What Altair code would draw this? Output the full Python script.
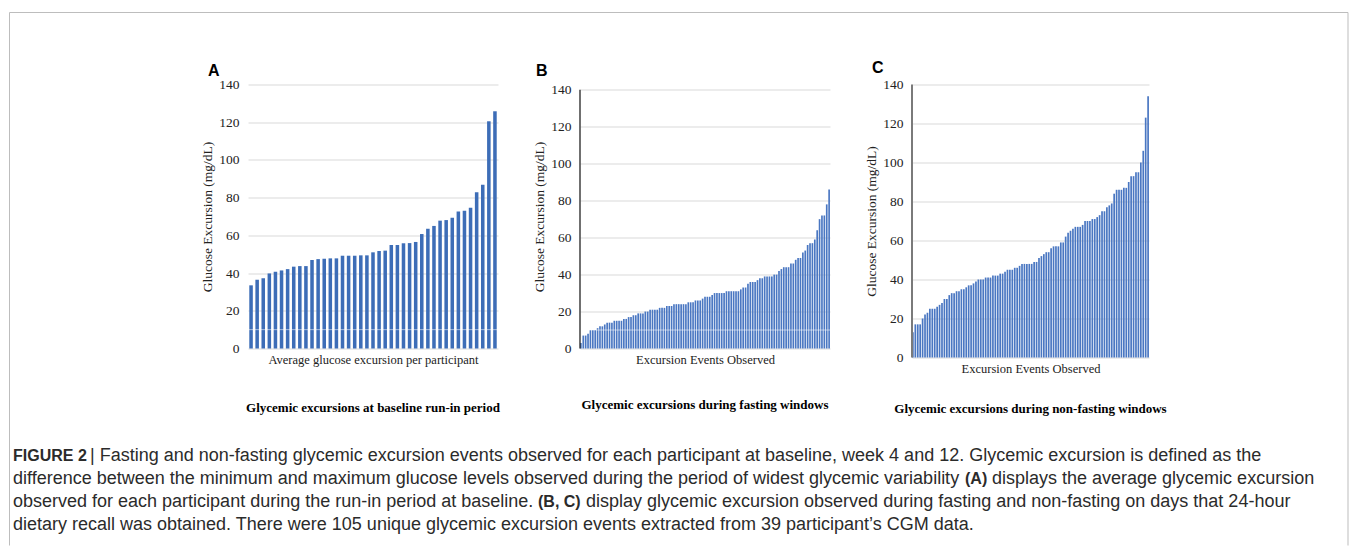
import altair as alt
import pandas as pd

# ---------------- data ----------------
a_values = [33.5, 36.5, 37.3, 39.8, 40.7, 41.4, 42.1, 43.4, 43.7, 43.7,
            46.9, 47.4, 47.6, 47.8, 47.8, 49.2, 49.2, 49.2, 49.4, 49.4,
            51.0, 51.7, 51.9, 54.9, 54.9, 55.8, 55.9, 56.5, 60.7, 63.5,
            65.0, 67.8, 68.1, 69.4, 72.7, 73.1, 74.7, 82.8, 86.9, 120.5,
            125.8]

b_values = [3, 7, 7, 8, 10, 10, 10, 11, 12, 12,
            13, 14, 14, 14, 15, 15, 15, 15, 16, 16,
            17, 17, 18, 18, 19, 19, 19, 20, 20, 21,
            21, 21, 21, 22, 22, 22, 23, 23, 23, 24,
            24, 24, 24, 24, 24, 25, 25, 25, 26, 26,
            26, 27, 28, 28, 28, 29, 30, 30, 30, 30,
            30, 31, 31, 31, 31, 31, 31, 32, 33, 33,
            35, 36, 36, 36, 37, 38, 38, 39, 39, 39,
            39, 40, 40, 42, 43, 44, 44, 44, 46, 46,
            48, 49, 49, 52, 53, 56, 57, 57, 59, 64,
            70, 72, 72, 78, 86]

c_values = [13, 17, 17, 17, 20, 22, 23, 25, 25, 25,
            26, 27, 28, 30, 30, 32, 33, 33, 34, 34,
            35, 35, 36, 37, 37, 38, 39, 40, 40, 40,
            41, 41, 41, 42, 42, 42, 43, 43, 44, 45,
            45, 45, 46, 46, 47, 48, 48, 48, 48, 48,
            49, 49, 51, 52, 53, 54, 54, 56, 57, 57,
            57, 59, 59, 62, 64, 65, 66, 67, 67, 67,
            68, 70, 70, 70, 71, 71, 72, 73, 75, 75,
            77, 78, 79, 84, 86, 86, 86, 87, 87, 90,
            93, 93, 95, 95, 100, 106, 123, 134]

y_ticks = [0, 20, 40, 60, 80, 100, 120, 140]
y_title = "Glucose Excursion (mg/dL)"
x_titles = ["Average glucose excursion per participant",
            "Excursion Events Observed",
            "Excursion Events Observed"]
panel_titles = ["Glycemic excursions at baseline run-in period",
                "Glycemic excursions during fasting windows",
                "Glycemic excursions during non-fasting windows"]
letters = ["A", "B", "C"]

# (text, weight, font size, page x)
caption_lines = [
    [("FIGURE 2", "bold", 16, 13),
     ("| Fasting and non-fasting glycemic excursion events observed for each participant at baseline, week 4 and 12. Glycemic excursion is defined as the", "normal", 18, 90)],
    [("difference between the minimum and maximum glucose levels observed during the period of widest glycemic variability", "normal", 18, 13),
     ("(A)", "bold", 16, 965),
     ("displays the average glycemic excursion", "normal", 18, 992)],
    [("observed for each participant during the run-in period at baseline.", "normal", 18, 13),
     ("(B, C)", "bold", 16, 538),
     ("display glycemic excursion observed during fasting and non-fasting on days that 24-hour", "normal", 18, 586)],
    [("dietary recall was obtained. There were 105 unique glycemic excursion events extracted from 39 participant\u2019s CGM data.", "normal", 18, 13)],
]
caption_y = [455, 478, 501, 524]

SERIF = "Liberation Serif"
SANS = "Liberation Sans"
BLUE_A = "#3d6db7"
BLUE_BC = "#4a77c2"

# page position of panel A's plot origin
AX0, AY0 = 248, 84

Y_AXIS = alt.Axis(values=y_ticks, grid=True, gridColor="#d9d9d9", gridWidth=1,
                  domain=False, ticks=False, labelOverlap=False,
                  labelFont=SERIF, labelFontSize=13.5, labelColor="#222",
                  labelPadding=9, title=y_title, titleFont=SERIF,
                  titleFontSize=13.5, titleFontWeight="normal", titleColor="#222",
                  titlePadding=4)


def panel(values, width, height, ymax, xtitle, color, p_in, p_out,
          letter, letter_xy, title, title_y, axis_line=None, white10=False):
    yscale = alt.Scale(domain=[0, ymax], nice=False, zero=True)
    df = pd.DataFrame({"event": list(range(1, len(values) + 1)), "value": values})
    bars = alt.Chart(df).mark_bar(color=color).encode(
        x=alt.X("event:O",
                scale=alt.Scale(paddingInner=p_in, paddingOuter=p_out),
                axis=alt.Axis(labels=False, ticks=False, domain=False, grid=False,
                              title=xtitle, titleFont=SERIF, titleFontSize=12.5,
                              titleFontWeight="normal", titleColor="#222",
                              titlePadding=5)),
        y=alt.Y("value:Q", scale=yscale, axis=Y_AXIS),
    )
    layers = [bars]
    if white10:
        layers.append(alt.Chart(pd.DataFrame({"value": [10]})).mark_rule(
            color="white", strokeWidth=1, opacity=0.55).encode(
            y=alt.Y("value:Q", scale=yscale, axis=Y_AXIS)))
    if axis_line is not None:
        col, w = axis_line
        layers.append(alt.Chart(pd.DataFrame({"value": [0], "hi": [140]})).mark_rule(
            color=col, strokeWidth=w).encode(
            x=alt.value(0), y=alt.Y("value:Q", scale=yscale, axis=Y_AXIS), y2="hi:Q"))
    layers.append(alt.Chart(pd.DataFrame({"t": [letter]})).mark_text(
        font=SANS, fontSize=16, fontWeight="bold", align="left",
        baseline="alphabetic", color="#000").encode(
        text="t:N", x=alt.value(letter_xy[0]), y=alt.value(letter_xy[1])))
    layers.append(alt.Chart(pd.DataFrame({"t": [title]})).mark_text(
        font=SERIF, fontSize=13, fontWeight="bold", align="center",
        baseline="middle", color="#000").encode(
        text="t:N", x=alt.value(width / 2), y=alt.value(title_y)))
    return layers


# ---- panel A (also carries the figure frame and caption) ----
wA, hA = 250, 264
layA = panel(a_values, wA, hA, 140, x_titles[0], BLUE_A, 0.42, 0.21,
             letters[0], (208 - AX0, 75 - AY0), panel_titles[0], 407 - AY0,
             white10=True)

frame = pd.DataFrame({"k": [0]})
fx1, fx2 = 9.5 - AX0, 1348 - AX0
fy1, fy2 = 12 - AY0, 545 - AY0
for enc in [dict(x=alt.value(fx1), x2=alt.value(fx2), y=alt.value(fy1)),
            dict(x=alt.value(fx1), y=alt.value(fy1), y2=alt.value(fy2)),
            dict(x=alt.value(fx2), y=alt.value(fy1), y2=alt.value(fy2))]:
    layA.append(alt.Chart(frame).mark_rule(color="#bdbdbd", strokeWidth=1).encode(**enc))

for line, ypos in zip(caption_lines, caption_y):
    for txt, weight, fsize, xpos in line:
        layA.append(alt.Chart(pd.DataFrame({"t": [txt]})).mark_text(
            font=SANS, fontSize=fsize, fontWeight=weight, align="left",
            baseline="middle", color="#2b2b2b").encode(
            text="t:N", x=alt.value(xpos - AX0), y=alt.value(ypos - AY0)))

chartA = alt.layer(*layA).properties(width=wA, height=hA)

# ---- panel B ----
SPACING = 82
BX0 = AX0 + wA + SPACING
wB, hB = 250, 264
ymaxB = 140 * hB / 258.7
layB = panel(b_values, wB, hB, ymaxB, x_titles[1], BLUE_BC, 0.3, 0.02,
             letters[1], (536 - BX0, 75 - AY0), panel_titles[1], 404 - AY0,
             axis_line=("#222", 1.3), white10=True)
chartB = alt.layer(*layB).properties(width=wB, height=hB)

# ---- panel C ----
CX0 = BX0 + wB + SPACING
wC, hC = 237, 273
layC = panel(c_values, wC, hC, 140, x_titles[2], BLUE_BC, 0.3, 0.02,
             letters[2], (872 - CX0, 72 - AY0), panel_titles[2], 408 - AY0,
             axis_line=("#7a7a7a", 2))
chartC = alt.layer(*layC).properties(width=wC, height=hC)

chart = alt.hconcat(chartA, chartB, chartC, spacing=SPACING, bounds="flush").properties(
    padding={"left": 9, "top": 11.5, "right": 3, "bottom": 0},
    background="white",
).configure_view(strokeWidth=0)

chart.save("out.html", embed_options={"renderer": "svg", "actions": False})
